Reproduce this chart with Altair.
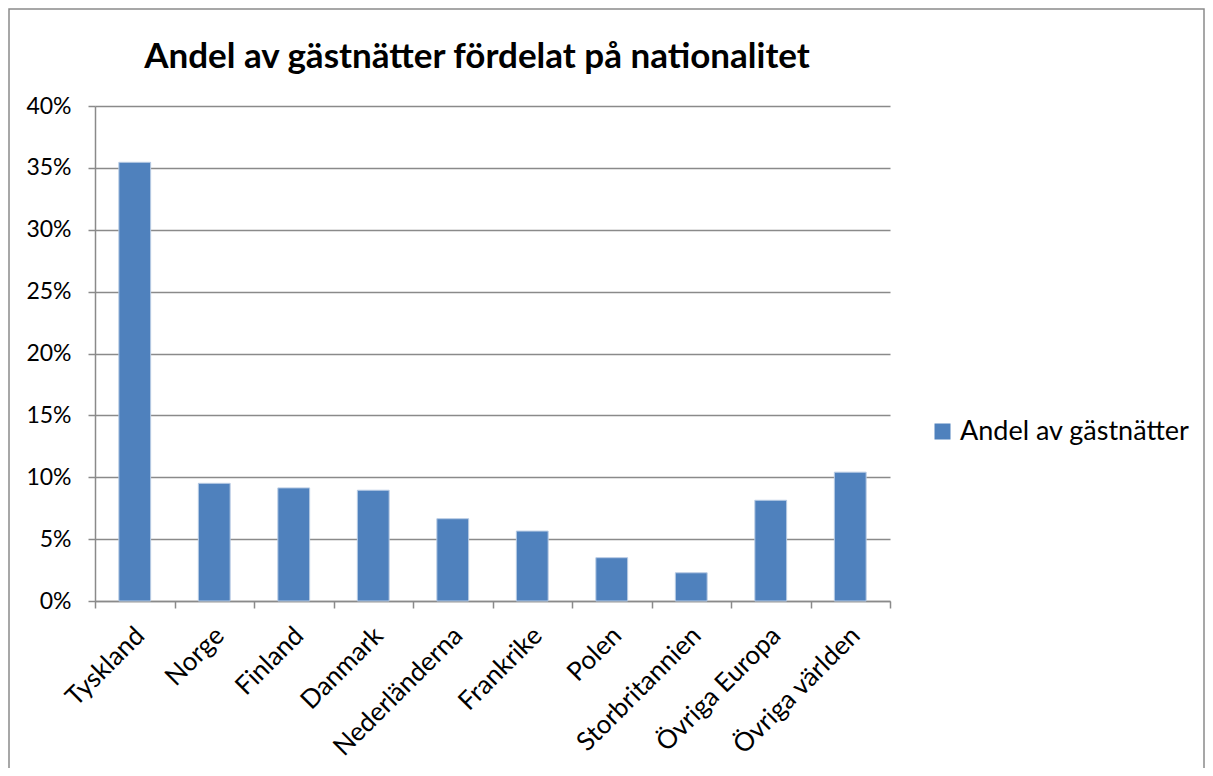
import altair as alt
import pandas as pd

categories = ["Tyskland", "Norge", "Finland", "Danmark", "Nederländerna",
              "Frankrike", "Polen", "Storbritannien", "Övriga Europa", "Övriga världen"]
values = [0.3545, 0.0951, 0.0914, 0.0895, 0.0665, 0.0565, 0.0350, 0.0228, 0.0814, 0.1041]
series_name = "Andel av gästnätter"
y_ticks = [0, 0.05, 0.10, 0.15, 0.20, 0.25, 0.30, 0.35, 0.40]
title_text = "Andel av gästnätter fördelat på nationalitet"

df = pd.DataFrame({"land": categories, "andel": values, "serie": [series_name] * len(categories)})
one_df = pd.DataFrame({"t": [title_text]})

FONT = "Lato"
GRID = "#8a8a8a"

bars = alt.Chart(df).mark_bar(
    width=alt.RelativeBandSize(0.4), stroke="#b8cbe4", strokeWidth=1
).encode(
    x=alt.X("land:N", sort=categories,
            scale=alt.Scale(paddingInner=0, paddingOuter=0),
            axis=alt.Axis(title=None, labelAngle=-45, labelAlign="right", labelBaseline="top",
                          tickBand="extent", tickSize=7, tickColor=GRID, tickWidth=1.5,
                          domainColor=GRID, domainWidth=1.5, labelFontSize=26,
                          labelFont=FONT, labelColor="black", labelPadding=14, labelOffset=-4,
                          labelLimit=0, grid=False)),
    y=alt.Y("andel:Q", scale=alt.Scale(domain=[0, 0.4], nice=False),
            axis=alt.Axis(title=None, values=y_ticks, format=".0%", grid=True,
                          gridColor=GRID, gridWidth=1.5, gridOpacity=1,
                          tickSize=7, tickColor=GRID, tickWidth=1.5,
                          domainColor=GRID, domainWidth=1.5,
                          labelFontSize=23, labelFont=FONT, labelColor="black",
                          labelPadding=17)),
    color=alt.Color("serie:N", scale=alt.Scale(range=["#4F81BD"]),
                    legend=alt.Legend(title=None, orient="none", legendX=834, legendY=312,
                                      symbolType="square", symbolSize=256,
                                      symbolStrokeWidth=0, labelFontSize=27, labelLimit=0,
                                      labelFont=FONT, labelColor="black", labelOffset=4))
)

frame = alt.Chart(one_df).mark_rect(filled=False, stroke="#8a8a8a", strokeWidth=1.5).encode(
    x=alt.value(-86), x2=alt.value(1109), y=alt.value(-97), y2=alt.value(700)
)

title = alt.Chart(one_df).mark_text(
    font=FONT, fontSize=35, fontWeight="bold", color="black", align="center", baseline="alphabetic"
).encode(
    text="t:N", x=alt.value(382), y=alt.value(-38)
)

chart = alt.layer(frame, title, bars).properties(
    width=795, height=495,
    padding={"left": 87, "top": 98, "right": 315, "bottom": 167},
    autosize=alt.AutoSizeParams(type="none"),
).configure_view(stroke=None).configure_axis(labelFontWeight="normal")

chart.save("out.html", embed_options={"renderer": "svg", "actions": False})
